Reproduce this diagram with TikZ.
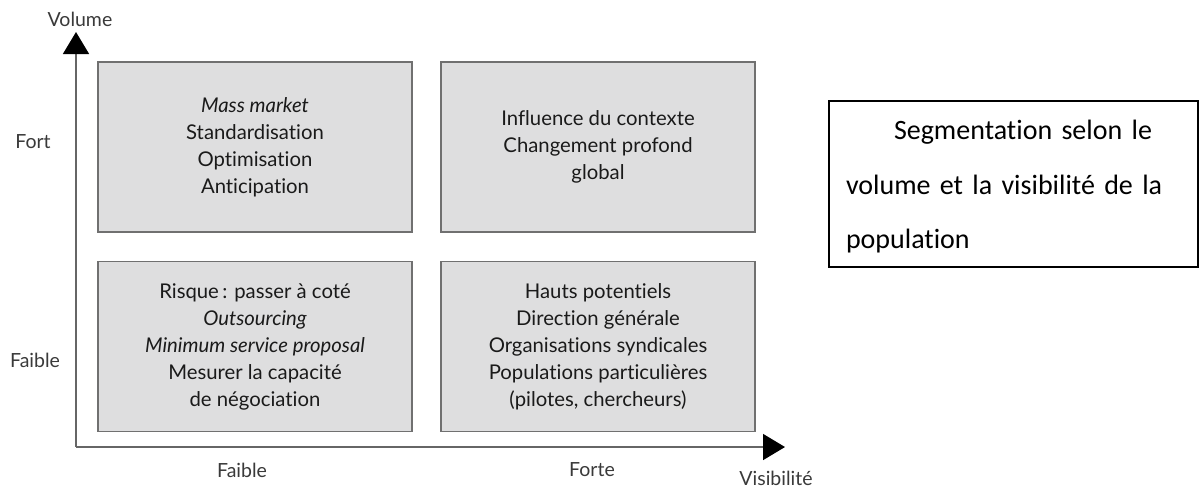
\documentclass[tikz,border=0pt]{standalone}
\usepackage{fontspec}
\usetikzlibrary{arrows.meta}
\newfontfamily\gillf[Ligatures=CommonOff]{Lato}
\newfontfamily\calibf[Ligatures=CommonOff]{Carlito}
\definecolor{boxfill}{HTML}{DEDEDF}
\definecolor{boxline}{HTML}{707070}
\definecolor{axisline}{HTML}{666666}
\definecolor{txt}{HTML}{1A1A1A}
\definecolor{axtxt}{HTML}{3A3A3A}
\tikzset{
  quad/.style={draw=boxline, line width=1.6pt, fill=boxfill, minimum width=314pt, minimum height=170pt,
    inner sep=0pt, align=center, text=txt, font=\gillf\fontsize{20.3}{27}\selectfont},
  axis/.style={draw=axisline, line width=1.6pt, -{Triangle[width=26pt,length=22pt,color=black]}},
  axlabel/.style={text=axtxt, font=\gillf\fontsize{19.5}{22}\selectfont, inner sep=0pt},
  notebox/.style={draw=black, line width=1.4pt, minimum width=369pt, minimum height=166pt, inner sep=0pt},
  notetext/.style={text width=335pt, inner xsep=17pt, inner ysep=0pt, align=left, text=black,
    font=\calibf\fontsize{28}{54.5}\selectfont}
}
\begin{document}
\begin{tikzpicture}[x=1pt,y=-1pt]
\useasboundingbox (0,0) rectangle (1202,488);
\coordinate (O) at (76,447);
\coordinate (ytip) at (76,32);
\coordinate (xtip) at (785,447);
\draw[axis] (O) -- (ytip);
\draw[axis] (O) -- (xtip);

\node[quad] (tl) at (255,147) {\itshape Mass market\\Standardisation\\Optimisation\\Anticipation};
\node[quad] (tr) at (598,147) {Influence du contexte\\Changement profond\\global};
\node[quad] (bl) at (255,346.5) {Risque\,: passer à coté\\\itshape Outsourcing\\\itshape Minimum service proposal\\Mesurer la capacité\\de négociation};
\node[quad] (br) at (598,346.5) {Hauts potentiels\\Direction générale\\Organisations syndicales\\Populations particulières\\(pilotes, chercheurs)};

\node[axlabel] (vol) at (80,19) {Volume};
\node[axlabel] (fort) at (33,142) {Fort};
\node[axlabel] (faibley) at (35,360) {Faible};
\node[axlabel] (faiblex) at (242,470) {Faible};
\node[axlabel] (fortex) at (592,470) {Forte};
\node[axlabel] (vis) at (776,478) {Visibilité};

\node[notebox] (note) at (1013.5,184) {};
\node[notetext] (notetxt) at ([yshift=-3pt]note.center) {\hspace*{48pt}Segmentation selon le\\volume et la visibilité de la\\population};
\end{tikzpicture}
\end{document}
